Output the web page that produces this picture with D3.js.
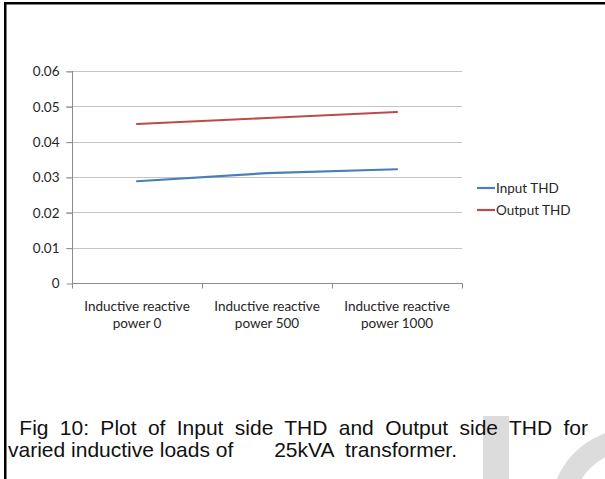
<!DOCTYPE html>
<html>
<head>
<meta charset="utf-8">
<script src="https://cdn.jsdelivr.net/npm/d3@7"></script>
<style>
  html, body { margin: 0; padding: 0; background: #fff; }
  svg { display: block; }
</style>
</head>
<body>
<svg id="fig" width="605" height="479"></svg>
<script>
// Categories along the x axis (two-line labels)
const categories = ["Inductive reactive power 0", "Inductive reactive power 500", "Inductive reactive power 1000"];
const categoryLines = [
  ["Inductive reactive", "power 0"],
  ["Inductive reactive", "power 500"],
  ["Inductive reactive", "power 1000"]
];
// THD values per load step
const inputTHD = [0.0288, 0.0311, 0.0322];
const outputTHD = [0.0450, 0.0467, 0.0484];
const seriesNames = ["Input THD", "Output THD"];
const yTicks = [0, 0.01, 0.02, 0.03, 0.04, 0.05, 0.06];
const yTickLabels = ["0", "0.01", "0.02", "0.03", "0.04", "0.05", "0.06"];
const captionLine1 = " Fig 10: Plot of Input side THD and Output side THD for";
const captionLine2 = "varied inductive loads of       25kVA  transformer.";

const colors = ["#4a7ebb", "#be4b48"];
const svg = d3.select("#fig");

// faint watermark shapes behind the caption
svg.append("rect").attr("x", 483).attr("y", 416).attr("width", 26).attr("height", 63).attr("fill", "#dcdcdc");
const ring = d3.arc().innerRadius(62).outerRadius(84).startAngle(-Math.PI).endAngle(0);
svg.append("path").attr("d", ring()).attr("transform", "translate(634,512)").attr("fill", "#dcdcdc");

// frame edges
svg.append("rect").attr("x", 4).attr("y", 2).attr("width", 601).attr("height", 2.5).attr("fill", "#000");
svg.append("rect").attr("x", 4).attr("y", 2).attr("width", 2.5).attr("height", 477).attr("fill", "#000");

const plot = { left: 72, right: 462, top: 71, bottom: 283 };

const x = d3.scaleBand().domain(categories).range([plot.left, plot.right]).padding(0);
const y = d3.scaleLinear().domain([0, 0.06]).range([plot.bottom, plot.top]);

const chartFont = "Lato, 'Open Sans', sans-serif";
const chartSize = 13.5;

// horizontal gridlines
svg.append("g").selectAll("line").data(yTicks.filter(d => d > 0)).join("line")
  .attr("x1", plot.left - 6).attr("x2", plot.right)
  .attr("y1", d => Math.round(y(d)) + 0.5).attr("y2", d => Math.round(y(d)) + 0.5)
  .attr("stroke", "#c4c4c4").attr("stroke-width", 1);

// y axis
const yAxis = svg.append("g")
  .attr("transform", `translate(${plot.left + 0.5},0)`)
  .call(d3.axisLeft(y).tickValues(yTicks).tickFormat((d, i) => yTickLabels[i]).tickSize(6).tickPadding(7));
yAxis.select(".domain").attr("stroke", "#8c8c8c").attr("d", `M0,${plot.top}V${plot.bottom + 0.5}`);
yAxis.selectAll(".tick line").attr("stroke", "#8c8c8c").attr("transform", "translate(0,0.5)");
yAxis.selectAll(".tick text").attr("font-family", chartFont).attr("font-size", chartSize)
  .attr("fill", "#262626").attr("dy", "0.36em");

// x axis with ticks at category boundaries
const xg = svg.append("g").attr("transform", `translate(0,${Math.round(plot.bottom) + 0.5})`);
xg.append("line").attr("x1", plot.left).attr("x2", plot.right + 0.5).attr("stroke", "#8c8c8c");
const bounds = categories.map(c => x(c)).concat([x(categories[categories.length - 1]) + x.bandwidth()]);
xg.selectAll("line.tk").data(bounds).join("line").attr("class", "tk")
  .attr("x1", d => Math.round(d) + 0.5).attr("x2", d => Math.round(d) + 0.5)
  .attr("y1", 0).attr("y2", 5).attr("stroke", "#8c8c8c");
const lbl = xg.selectAll("text").data(categories).join("text")
  .attr("font-family", chartFont).attr("font-size", chartSize).attr("fill", "#262626")
  .attr("text-anchor", "middle");
lbl.each(function (c, i) {
  const t = d3.select(this);
  categoryLines[i].forEach((ln, k) => {
    t.append("tspan").attr("x", x(c) + x.bandwidth() / 2).attr("y", 27 + k * 17.5).text(ln);
  });
});

// series lines
const line = d3.line().x((d, i) => x(categories[i]) + x.bandwidth() / 2).y(d => y(d));
[inputTHD, outputTHD].forEach((vals, s) => {
  svg.append("path").datum(vals).attr("d", line)
    .attr("fill", "none").attr("stroke", colors[s]).attr("stroke-width", 2.2)
    .attr("stroke-linecap", "round");
});

// legend
const legend = svg.append("g").attr("transform", "translate(477,188)");
seriesNames.forEach((name, i) => {
  const g = legend.append("g").attr("transform", `translate(0,${i * 22})`);
  g.append("line").attr("x1", 0).attr("x2", 18).attr("stroke", colors[i]).attr("stroke-width", 2.2);
  g.append("text").attr("x", 19).attr("dy", "0.36em")
    .attr("font-family", chartFont).attr("font-size", chartSize).attr("fill", "#262626").text(name);
});

// caption, first line justified between the margins
const capFont = "'Liberation Sans', Arial, sans-serif";
const capSize = 21;
const capLeft = 8;
const c1 = svg.append("text").attr("x", capLeft).attr("y", 435)
  .attr("xml:space", "preserve").style("white-space", "pre")
  .attr("font-family", capFont).attr("font-size", capSize).attr("fill", "#111").text(captionLine1);
const target = 588 - capLeft;
const len = c1.node().getComputedTextLength();
const gaps = captionLine1.split(" ").length - 1;
c1.attr("word-spacing", Math.max(0, (target - len) / gaps));
svg.append("text").attr("x", capLeft).attr("y", 457)
  .attr("xml:space", "preserve").style("white-space", "pre")
  .attr("font-family", capFont).attr("font-size", capSize).attr("fill", "#111").text(captionLine2);
</script>
</body>
</html>
